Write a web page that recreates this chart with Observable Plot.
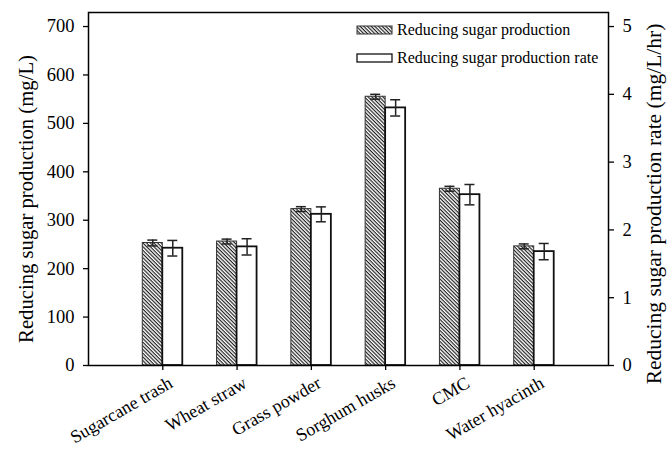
<!DOCTYPE html>
<html>
<head>
<meta charset="utf-8">
<script src="https://cdn.jsdelivr.net/npm/d3@7"></script>
<script src="https://cdn.jsdelivr.net/npm/@observablehq/plot@0.6"></script>
<style>
  html, body { margin: 0; padding: 0; background: #fff; }
  #chart { width: 668px; height: 449px; }
</style>
</head>
<body>
<div id="chart"></div>
<script>
const categories = ["Sugarcane trash", "Wheat straw", "Grass powder", "Sorghum husks", "CMC", "Water hyacinth"];
const production = [253, 256, 323, 555, 365, 246];       // mg/L (left axis)
const productionErr = [6, 5, 5, 5, 5, 5];
const rate = [1.73, 1.75, 2.23, 3.80, 2.52, 1.68];       // mg/L/hr (right axis)
const rateErr = [0.115, 0.12, 0.11, 0.12, 0.15, 0.12];
const leftTicks = [0, 100, 200, 300, 400, 500, 600, 700];
const rightTicks = [0, 1, 2, 3, 4, 5];
const seriesNames = ["Reducing sugar production", "Reducing sugar production rate"];
const leftTitle = "Reducing sugar production (mg/L)";
const rightTitle = "Reducing sugar production rate (mg/L/hr)";

const k = 140; // right-axis unit -> left-axis unit (5 mg/L/hr aligns with 700 mg/L)
const rows = categories.map((c, i) => ({
  c, p: production[i], pe: productionErr[i], r: rate[i] * k, re: rateErr[i] * k
}));

const font = "'Liberation Serif', 'Times New Roman', serif";

const chart = Plot.plot({
  width: 668,
  height: 449,
  marginLeft: 88,
  marginRight: 60,
  marginTop: 12,
  marginBottom: 84,
  style: { fontFamily: font, fontSize: "18.5px", color: "#000", background: "#fff", overflow: "visible" },
  x: { domain: categories, paddingInner: 0.4615, paddingOuter: 0.7308, round: false, axis: null },
  y: { domain: [0, 729], axis: null },
  marks: [
    Plot.barY(rows, { x: "c", y: "p", fill: "url(#hatch)", stroke: "#333", strokeWidth: 1, insetRight: 20 }),
    Plot.barY(rows, { x: "c", y: "r", fill: "#fff", stroke: "#111", strokeWidth: 1.8, insetLeft: 20 }),
    // error bars: production
    Plot.ruleX(rows, { x: "c", y1: d => d.p - d.pe, y2: d => d.p + d.pe, dx: -10, stroke: "#222", strokeWidth: 1.5 }),
    Plot.tickY(rows, { x: "c", y: d => d.p + d.pe, insetLeft: 5, insetRight: 25, stroke: "#222", strokeWidth: 1.5 }),
    Plot.tickY(rows, { x: "c", y: d => d.p - d.pe, insetLeft: 5, insetRight: 25, stroke: "#222", strokeWidth: 1.5 }),
    // error bars: rate
    Plot.ruleX(rows, { x: "c", y1: d => d.r - d.re, y2: d => d.r + d.re, dx: 10, stroke: "#222", strokeWidth: 1.5 }),
    Plot.tickY(rows, { x: "c", y: d => d.r + d.re, insetLeft: 25, insetRight: 5, stroke: "#222", strokeWidth: 1.5 }),
    Plot.tickY(rows, { x: "c", y: d => d.r - d.re, insetLeft: 25, insetRight: 5, stroke: "#222", strokeWidth: 1.5 }),
    // axes
    Plot.axisY(leftTicks, { anchor: "left", tickSize: 5, tickPadding: 9, label: null, fontSize: 18.5, stroke: "#000", strokeWidth: 1.3 }),
    Plot.axisY(rightTicks.map(t => t * k), { anchor: "right", tickSize: 5, tickPadding: 9, tickFormat: d => String(Math.round(d / k)), label: null, fontSize: 18.5, stroke: "#000", strokeWidth: 1.3 }),
    Plot.axisX({ anchor: "bottom", tickSize: 5, tickFormat: () => "", label: null, stroke: "#000", strokeWidth: 1.3 }),
    Plot.text(categories, { x: d => d, frameAnchor: "bottom", rotate: -30, textAnchor: "end", lineAnchor: "bottom", dx: 11, dy: 21, fontSize: 18 }),
    // axis titles
    Plot.text([leftTitle], { frameAnchor: "left", textAnchor: "middle", lineAnchor: "middle", rotate: -90, dx: -62, dy: 10, fontSize: 20.7 }),
    Plot.text([rightTitle], { frameAnchor: "right", textAnchor: "middle", lineAnchor: "middle", rotate: -90, dx: 46, dy: 15, fontSize: 21.5 }),
    Plot.frame({ stroke: "#000", strokeWidth: 1.5 })
  ]
});

document.getElementById("chart").appendChild(chart);

// hatch pattern + legend
const svg = d3.select(chart);
const defs = svg.insert("defs", ":first-child");
const pat = defs.append("pattern")
  .attr("id", "hatch")
  .attr("patternUnits", "userSpaceOnUse")
  .attr("width", 2.6).attr("height", 2.6)
  .attr("patternTransform", "rotate(45)");
pat.append("rect").attr("width", 2.6).attr("height", 2.6).attr("fill", "#fff");
pat.append("line").attr("x1", 0).attr("y1", 0.6).attr("x2", 2.6).attr("y2", 0.6)
  .attr("stroke", "#111").attr("stroke-width", 1.1);

const legend = svg.append("g")
  .attr("font-family", font).attr("font-size", 16).attr("fill", "#000").attr("text-anchor", "start");
const legendRows = [
  { name: seriesNames[0], fill: "url(#hatch)", stroke: "#333", sw: 1, y: 30 },
  { name: seriesNames[1], fill: "#fff", stroke: "#111", sw: 1.3, y: 58 }
];
legendRows.forEach(r => {
  legend.append("rect").attr("x", 357).attr("y", r.y - 4).attr("width", 35).attr("height", 8)
    .attr("fill", r.fill).attr("stroke", r.stroke).attr("stroke-width", r.sw);
  legend.append("text").attr("x", 397).attr("y", r.y).attr("dy", "0.32em").text(r.name);
});
</script>
</body>
</html>
